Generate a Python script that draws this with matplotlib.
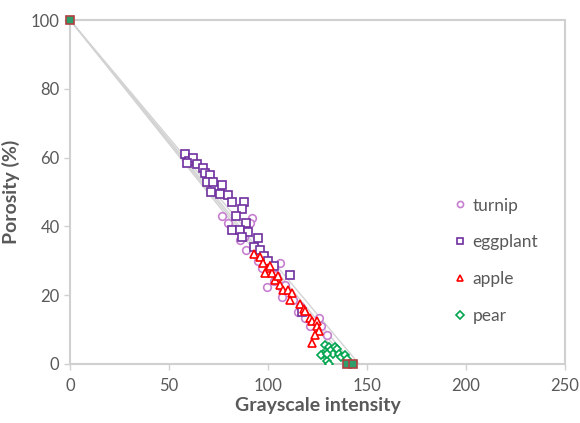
import numpy as np
import matplotlib
matplotlib.use('Agg')
import matplotlib.pyplot as plt

# values
turnip_x = [77, 80, 92, 91, 88, 86, 89, 95, 97, 100, 106, 104, 99.5, 107, 103, 108.5,
            107, 112.5, 115, 118.5, 116, 121, 126, 130, 127]
turnip_y = [43, 41, 42.5, 41, 37, 36, 33, 30, 28, 27, 29.5, 26, 22.5, 22, 24, 23,
            19.5, 18.5, 15, 13.5, 17, 11, 13.5, 8.5, 11]

eggplant_x = [58, 60, 62, 59, 64, 67, 68, 70.5, 69, 72, 77, 71, 76, 80, 82, 88, 87,
              84, 89, 82, 86, 90, 87, 95, 93, 96, 98, 100, 103, 111, 117]
eggplant_y = [61, 59, 60, 58.5, 58, 57, 55.5, 55, 53, 53, 52, 50, 49.5, 49, 47, 47, 45,
              43, 41, 39, 39, 38.5, 37, 36.5, 34, 33, 31.5, 30, 28.5, 26, 15]

apple_x = [93, 96, 97.5, 100, 98.5, 102, 101, 103.5, 105, 106, 107.5, 110, 112, 111,
           116, 118, 118.5, 121, 122, 125, 125, 126, 124, 122]
apple_y = [32, 31, 29.5, 28, 26.5, 26.5, 28.5, 24.5, 25.5, 23, 21.5, 21.5, 20.5, 18.5,
           17.5, 16, 15.5, 13.5, 12.5, 12.5, 11, 9.5, 8.5, 6]

pear_x = [128, 129, 131, 132, 134, 133, 135, 136, 137, 139, 140, 130, 131, 127, 130]
pear_y = [3, 5.5, 5, 4, 5, 3, 4.5, 3, 2, 2.5, 1.5, 1, 0, 2.5, 3]

# end points shared by the series
end_x = [0, 140, 143]
end_y = [100, 0, 0]

# x where each gray fit line reaches 0 porosity (all start at 0, 100)
fit_x0 = [139, 141, 143, 146]

grey = '#595959'
plt.rcParams['font.family'] = ['Lato', 'DejaVu Sans']

fig = plt.figure(figsize=(5.8, 4.23), dpi=100)
ax = fig.add_axes([0.1207, 0.1395, 0.8533, 0.8132])

for x0 in fit_x0:
    xs = np.array([0, x0])
    ax.plot(xs, 100 * (1 - xs / x0), color='#d3d3d3', lw=1, zorder=1)

ax.plot(turnip_x, turnip_y, 'o', ms=5.5, mfc='white', mec='#c77fd0', mew=1.2,
        label='turnip', zorder=3)
ax.plot(eggplant_x, eggplant_y, 's', ms=6, mfc='white', mec='#7030a0', mew=1.2,
        label='eggplant', zorder=4)
ax.plot(apple_x, apple_y, '^', ms=6, mfc='white', mec='#ff0000', mew=1.2,
        label='apple', zorder=5)
ax.plot(pear_x, pear_y, 'D', ms=4.5, mfc='white', mec='#00a550', mew=1.2,
        label='pear', zorder=6)
ax.plot(end_x, end_y, 's', ms=6, mfc='#2e9e6a', mec='#b04040', mew=1.2,
        linestyle='none', zorder=7, clip_on=False)

ax.set_xlim(0, 250)
ax.set_ylim(0, 100)
ax.set_xticks([0, 50, 100, 150, 200, 250])
ax.set_yticks([0, 20, 40, 60, 80, 100])
for s in ax.spines.values():
    s.set_color('#d0d0d0')
    s.set_linewidth(1.5)
ax.tick_params(colors='#d0d0d0', labelcolor=grey, labelsize=12, length=4, width=1)
ax.tick_params(axis='x', pad=6)

ax.set_xlabel('Grayscale intensity', fontsize=14, fontweight='bold', color=grey, labelpad=2)
ax.set_ylabel('Porosity (%)', fontsize=14, fontweight='bold', color=grey, labelpad=8)

leg = ax.legend(loc='center left', bbox_to_anchor=(0.745, 0.30), frameon=False,
                fontsize=12.5, labelspacing=1.2, handlelength=0.7, handletextpad=0.35,
                markerscale=0.8)
for t in leg.get_texts():
    t.set_color(grey)

fig.savefig('out.png', dpi=100)
